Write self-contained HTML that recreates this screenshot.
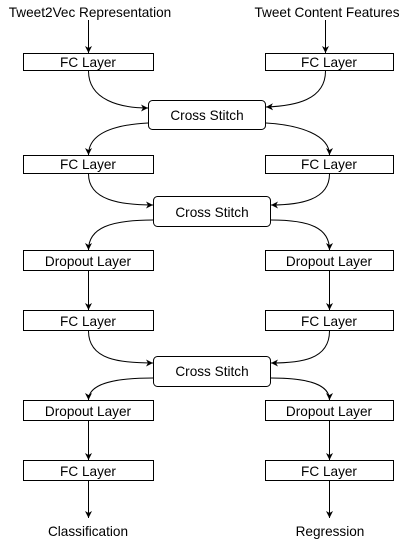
<!DOCTYPE html>
<html><head><style>body{margin:0;background:#fff}</style></head><body>
<svg width="410" height="541" xmlns="http://www.w3.org/2000/svg" font-family="Liberation Sans, Arial, sans-serif" font-size="13.6">
<defs><marker id="a" markerWidth="8" markerHeight="8" refX="7" refY="4" orient="auto" markerUnits="userSpaceOnUse"><path d="M0,0.5 L7,4 L0,7.5 L2,4 Z" fill="#000"/></marker></defs>
<g fill="#fff" stroke="#000" stroke-width="1">
<rect x="23.5" y="53.5" width="130" height="17"/><rect x="265.5" y="53.5" width="128" height="17"/>
<rect x="148.5" y="100.5" width="117" height="29" rx="4"/>
<rect x="23.5" y="155.5" width="130" height="18"/><rect x="265.5" y="155.5" width="128" height="18"/>
<rect x="153.5" y="196.5" width="117" height="30" rx="4"/>
<rect x="23.5" y="250.5" width="130" height="20"/><rect x="265.5" y="250.5" width="128" height="20"/>
<rect x="23.5" y="310.5" width="130" height="20"/><rect x="265.5" y="310.5" width="128" height="20"/>
<rect x="153.5" y="356.5" width="117" height="30" rx="4"/>
<rect x="23.5" y="400.5" width="130" height="20"/><rect x="265.5" y="400.5" width="128" height="20"/>
<rect x="23.5" y="460.5" width="130" height="20"/><rect x="265.5" y="460.5" width="128" height="20"/>
</g>
<g fill="none" stroke="#000" stroke-width="1" marker-end="url(#a)">
<path d="M88.5,20 V53"/><path d="M325.5,20 V53"/>
<path d="M88.5,71 C88.5,100 120,108 148,108"/>
<path d="M325.5,71 C325.5,100 295,106 266,107"/>
<path d="M148,123 C110,125 88.5,135 88.5,155"/>
<path d="M266,123 C300,125 329.5,135 329.5,155"/>
<path d="M88.5,174 C88.5,200 120,205 153,205"/>
<path d="M329.5,174 C329.5,200 300,205 271,205"/>
<path d="M153,220 C110,220 88.5,228 88.5,250"/>
<path d="M271,220 C310,220 329.5,228 329.5,250"/>
<path d="M88.5,271 V310"/><path d="M329.5,271 V310"/>
<path d="M88.5,331 C88.5,360 120,363 153,363"/>
<path d="M329.5,331 C329.5,360 300,363 271,363"/>
<path d="M153,378 C110,378 88.5,385 88.5,400"/>
<path d="M271,378 C310,378 329.5,385 329.5,400"/>
<path d="M88.5,421 V460"/><path d="M329.5,421 V460"/>
<path d="M88.5,481 V518"/><path d="M329.5,481 V518"/>
</g>
<g text-anchor="middle" fill="#000">
<text x="90" y="17">Tweet2Vec Representation</text><text x="327" y="17">Tweet Content Features</text>
<text x="88" y="67">FC Layer</text><text x="329" y="67">FC Layer</text>
<text x="207" y="120">Cross Stitch</text>
<text x="88" y="169">FC Layer</text><text x="329" y="169">FC Layer</text>
<text x="212" y="217">Cross Stitch</text>
<text x="88" y="266">Dropout Layer</text><text x="329" y="266">Dropout Layer</text>
<text x="88" y="326">FC Layer</text><text x="329" y="326">FC Layer</text>
<text x="212" y="376">Cross Stitch</text>
<text x="88" y="416">Dropout Layer</text><text x="329" y="416">Dropout Layer</text>
<text x="88" y="476">FC Layer</text><text x="329" y="476">FC Layer</text>
<text x="88" y="536">Classification</text><text x="330" y="536">Regression</text>
</g>
</svg>
</body></html>
